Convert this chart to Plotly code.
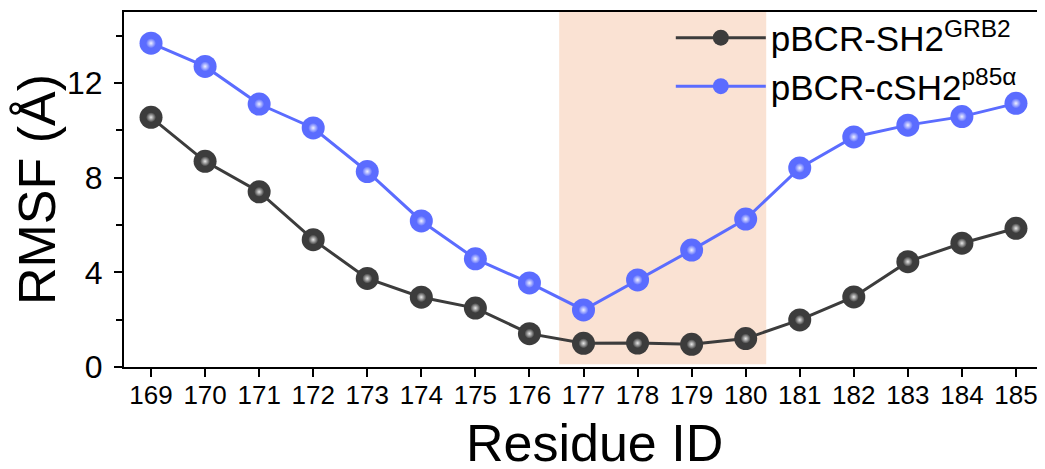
import plotly.graph_objects as go

residues = [169, 170, 171, 172, 173, 174, 175, 176, 177, 178, 179, 180, 181, 182, 183, 184, 185]
grb2 = [10.55, 8.69, 7.40, 5.38, 3.74, 2.95, 2.49, 1.41, 1.00, 1.01, 0.96, 1.20, 1.99, 2.96, 4.45, 5.23, 5.86]
p85 = [13.68, 12.70, 11.11, 10.10, 8.26, 6.17, 4.57, 3.55, 2.41, 3.68, 4.94, 6.25, 8.41, 9.72, 10.22, 10.58, 11.14]
names = ["pBCR-SH2<sup>GRB2</sup>", "pBCR-cSH2<sup>p85α</sup>"]
shade_range = [176.55, 180.38]
yticks = [0, 4, 8, 12]
x_title = "Residue ID"
y_title = "RMSF (Å)"

FONT = "Liberation Sans, Arial, sans-serif"
dark = "#3c3c3c"
blue = "#5b6cff"

fig = go.Figure()

for i, (ys, name, col, hl) in enumerate([(grb2, names[0], dark, "#e8e8e8"), (p85, names[1], blue, "#eef0ff")]):
    fig.add_trace(go.Scatter(
        x=residues, y=ys, name=name, mode="lines+markers", legendgroup=f"g{i}",
        line=dict(color=col, width=3),
        marker=dict(size=23, color=col, line=dict(width=0),
                    gradient=dict(type="radial", color=col)),
    ))
    fig.add_trace(go.Scatter(
        x=residues, y=ys, mode="markers", showlegend=False, hoverinfo="skip", legendgroup=f"g{i}",
        marker=dict(size=10, color=col, line=dict(width=0),
                    gradient=dict(type="radial", color=hl)),
    ))

fig.add_shape(type="rect", xref="x", yref="y",
              x0=shade_range[0], x1=shade_range[1], y0=0.12, y1=15,
              fillcolor="#fae2d3", line=dict(width=0), layer="below")

fig.add_annotation(text=x_title, xref="paper", yref="paper", x=0.5125, y=-0.213,
                   xanchor="center", yanchor="middle", showarrow=False, borderpad=0,
                   font=dict(size=52, family=FONT, color="black"))

fig.update_layout(
    width=1037, height=461,
    margin=dict(l=116, r=2, t=4, b=102, autoexpand=False),
    plot_bgcolor="white", paper_bgcolor="white",
    font=dict(family=FONT, color="black"),
    showlegend=True,
    legend=dict(x=0.595, xanchor="left", y=1.01, yanchor="top",
                bgcolor="rgba(0,0,0,0)", font=dict(size=35, family=FONT),
                itemwidth=90, traceorder="grouped", tracegroupgap=0),
)

fig.update_xaxes(
    range=[168.5, 185.5], tickvals=residues, ticktext=[str(r) for r in residues],
    ticks="outside", ticklen=8, tickwidth=2, tickcolor="black",
    showline=True, linewidth=2, linecolor="black", mirror=True,
    showgrid=False, zeroline=False, automargin=False,
    tickfont=dict(size=26, family=FONT), ticklabelstandoff=-4,
)
fig.update_yaxes(
    range=[0, 15], tickvals=yticks,
    ticks="outside", ticklen=8, tickwidth=2, tickcolor="black",
    minor=dict(dtick=2, tick0=0, ticks="outside", ticklen=6, tickwidth=2, tickcolor="black"),
    showline=True, linewidth=2, linecolor="black", mirror=True,
    showgrid=False, zeroline=False, automargin=False,
    tickfont=dict(size=32, family=FONT), ticklabelstandoff=5,
    title=dict(text=y_title, font=dict(size=52, family=FONT), standoff=8),
)

fig.write_html("out.html")
